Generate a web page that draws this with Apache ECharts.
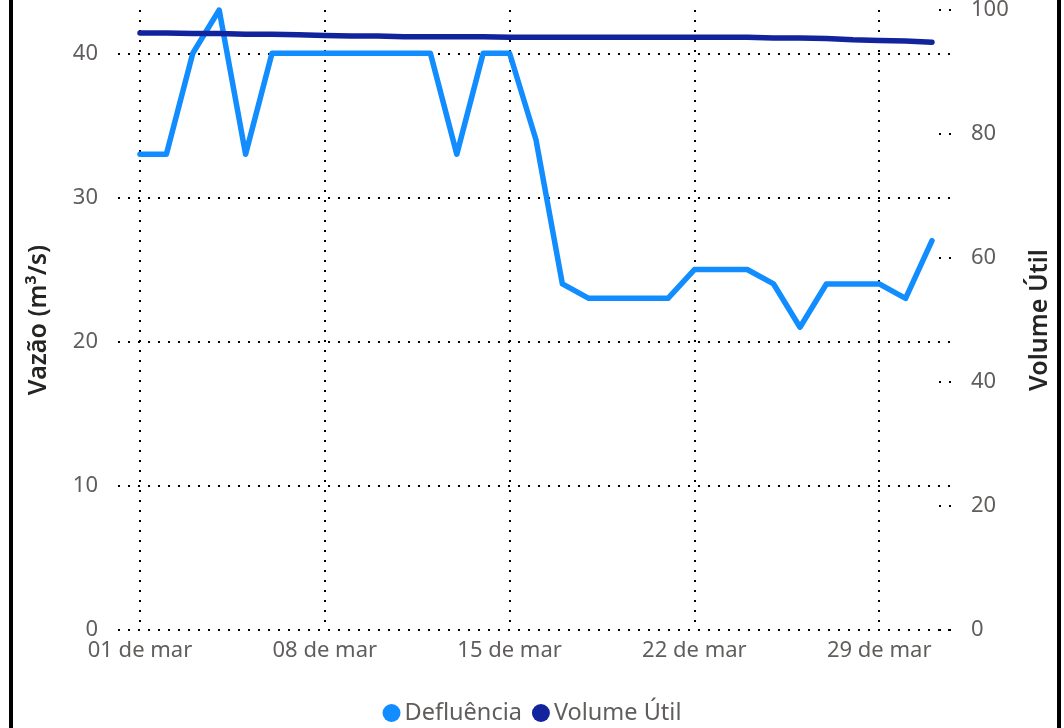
<!DOCTYPE html>
<html>
<head>
<meta charset="utf-8">
<script src="https://cdn.jsdelivr.net/npm/echarts@6/dist/echarts.min.js"></script>
<style>
  html, body { margin: 0; padding: 0; background: #fff; }
  #chart { position: absolute; left: 0; top: 0; width: 1064px; height: 728px; }
  .borda { position: absolute; top: 0; width: 4px; height: 728px; background: #000; }
</style>
</head>
<body>
<div id="chart"></div>
<div class="borda" style="left: 9px"></div>
<div class="borda" style="left: 1057px"></div>
<script>
// dias do mês (eixo x)
const dias = [
  '01 de mar', '02 de mar', '03 de mar', '04 de mar', '05 de mar', '06 de mar', '07 de mar',
  '08 de mar', '09 de mar', '10 de mar', '11 de mar', '12 de mar', '13 de mar', '14 de mar',
  '15 de mar', '16 de mar', '17 de mar', '18 de mar', '19 de mar', '20 de mar', '21 de mar',
  '22 de mar', '23 de mar', '24 de mar', '25 de mar', '26 de mar', '27 de mar', '28 de mar',
  '29 de mar', '30 de mar', '31 de mar'
]
// posições (índices) dos rótulos do eixo x
const diasRotulo = [0, 7, 14, 21, 28]

// vazão de defluência (m³/s)
const defluencia = [
  33, 33, 40, 43, 33, 40, 40, 40, 40, 40, 40, 40, 33, 40, 40,
  34, 24, 23, 23, 23, 23, 25, 25, 25, 24, 21, 24, 24, 24, 23, 27
]
// volume útil (%)
const volumeUtil = [
  96.3, 96.3, 96.2, 96.2, 96.1, 96.1, 96.0, 95.9, 95.8, 95.8, 95.7, 95.7, 95.7, 95.7, 95.6,
  95.6, 95.6, 95.6, 95.6, 95.6, 95.6, 95.6, 95.6, 95.6, 95.5, 95.5, 95.4, 95.2, 95.1, 95.0, 94.8
]

const fonte = "'Segoe UI', 'Noto Sans', sans-serif"
const cinza = '#605E5C'
const pontilhado = { color: '#000', width: 2, type: [2, 8] }

const chart = echarts.init(document.getElementById('chart'))
chart.setOption({
  animation: false,
  textStyle: { fontFamily: fonte },
  grid: { left: 118, right: 113, top: 10, bottom: 98, containLabel: false, outerBoundsMode: 'none' },
  legend: {
    top: 696,
    left: 'center',
    icon: 'circle',
    itemWidth: 18,
    itemHeight: 18,
    itemGap: 10,
    textStyle: { fontSize: 23.5, color: cinza, fontFamily: fonte, padding: [0, 0, 0, -1] },
    data: ['Defluência', 'Volume Útil']
  },
  xAxis: {
    type: 'value',
    min: -0.833,
    max: 30.72,
    axisLine: { show: false },
    axisTick: { show: false, customValues: diasRotulo },
    axisLabel: {
      customValues: diasRotulo,
      fontSize: 22,
      color: cinza,
      margin: 10,
      formatter: v => dias[Math.round(v)]
    },
    splitLine: { show: true, lineStyle: pontilhado }
  },
  yAxis: [
    {
      type: 'value',
      min: 0,
      max: 43,
      interval: 10,
      name: 'Vazão (m³/s)',
      nameLocation: 'middle',
      nameGap: 67,
      nameRotate: 90,
      nameTextStyle: { fontSize: 25, fontWeight: 600, color: '#252423' },
      axisLine: { show: false },
      axisTick: { show: false },
      axisLabel: { fontSize: 22, color: cinza, margin: 20, showMaxLabel: false },
      splitLine: { show: true, showMaxLine: false, lineStyle: pontilhado }
    },
    {
      type: 'value',
      min: 0,
      max: 100,
      interval: 20,
      name: 'Volume Útil',
      nameLocation: 'middle',
      nameGap: 76,
      nameRotate: 90,
      nameTextStyle: { fontSize: 25, fontWeight: 600, color: '#252423' },
      axisLine: { show: false },
      axisTick: { show: true, inside: true, length: 12, lineStyle: pontilhado },
      axisLabel: { fontSize: 22, color: cinza, margin: 20 },
      splitLine: { show: false }
    }
  ],
  series: [
    {
      name: 'Defluência',
      type: 'line',
      yAxisIndex: 0,
      data: defluencia.map((v, i) => [i, v]),
      showSymbol: false,
      symbol: 'circle',
      color: '#118DFF',
      lineStyle: { width: 5.5, cap: 'round', join: 'round' }
    },
    {
      name: 'Volume Útil',
      type: 'line',
      yAxisIndex: 1,
      data: volumeUtil.map((v, i) => [i, v]),
      showSymbol: false,
      symbol: 'circle',
      color: '#12239E',
      lineStyle: { width: 5.5, cap: 'round', join: 'round' }
    }
  ]
})
</script>
</body>
</html>
